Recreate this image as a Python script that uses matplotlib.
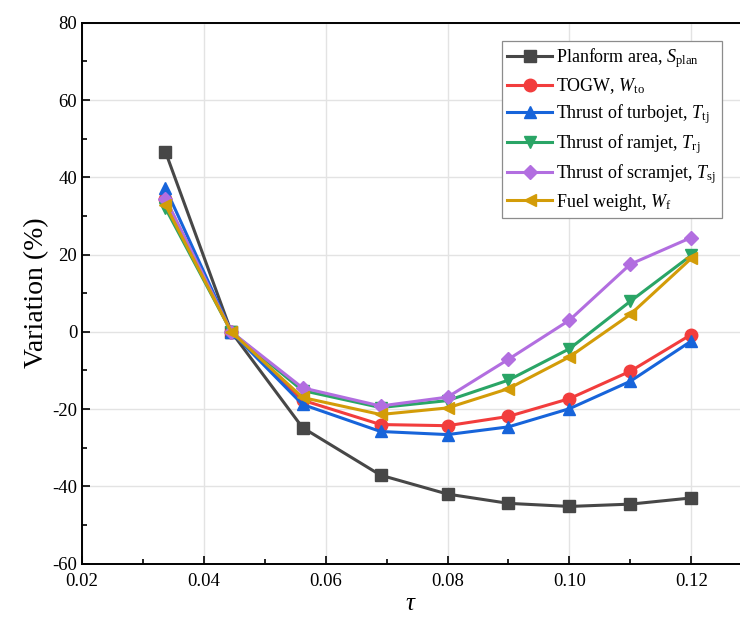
import matplotlib.pyplot as plt
from matplotlib.ticker import MultipleLocator

plt.rcParams['font.family'] = ['Liberation Serif', 'DejaVu Serif']
plt.rcParams['mathtext.fontset'] = 'custom'
plt.rcParams['mathtext.rm'] = 'Liberation Serif'
plt.rcParams['mathtext.it'] = 'Liberation Serif:italic'
plt.rcParams['axes.unicode_minus'] = False

# design parameter tau
tau = [0.0337, 0.0445, 0.0562, 0.0690, 0.08, 0.09, 0.10, 0.11, 0.12]

# variation (%) of each quantity
s_plan = [46.6, 0.0, -24.8, -37.1, -42.0, -44.4, -45.2, -44.6, -43.0]
w_to = [34.3, 0.0, -17.7, -24.0, -24.3, -21.9, -17.3, -10.2, -0.7]
t_tj = [37.2, 0.0, -18.8, -25.8, -26.6, -24.6, -19.9, -12.8, -2.4]
t_rj = [32.0, 0.0, -15.2, -19.6, -17.8, -12.5, -4.4, 7.9, 19.8]
t_sj = [34.5, 0.0, -14.5, -19.2, -16.9, -7.1, 3.0, 17.5, 24.4]
w_f = [32.8, 0.0, -17.0, -21.4, -19.7, -14.7, -6.5, 4.5, 19.0]

labels = ['Planform area, $S_{\\mathrm{plan}}$',
          'TOGW, $W_{\\mathrm{to}}$',
          'Thrust of turbojet, $T_{\\mathrm{tj}}$',
          'Thrust of ramjet, $T_{\\mathrm{rj}}$',
          'Thrust of scramjet, $T_{\\mathrm{sj}}$',
          'Fuel weight, $W_{\\mathrm{f}}$']
series = [s_plan, w_to, t_tj, t_rj, t_sj, w_f]
colors = ['#474747', '#F23D3D', '#1764DA', '#2AA566', '#B26EE0', '#D39C08']
markers = ['s', 'o', '^', 'v', 'D', '<']
sizes = [8, 9, 9, 9, 7.5, 9]

fig = plt.figure(figsize=(7.4, 6.35), dpi=100)
ax = fig.add_axes([0.1108, 0.1124, 0.8892, 0.8518])

for y, lab, c, m, ms in zip(series, labels, colors, markers, sizes):
    ax.plot(tau, y, color=c, marker=m, markersize=ms, linewidth=2.2,
            label=lab)

ax.set_xlim(0.02, 0.128)
ax.set_ylim(-60, 80)
ax.xaxis.set_major_locator(MultipleLocator(0.02))
ax.xaxis.set_minor_locator(MultipleLocator(0.01))
ax.yaxis.set_major_locator(MultipleLocator(20))
ax.yaxis.set_minor_locator(MultipleLocator(10))
ax.xaxis.set_major_formatter(plt.FuncFormatter(lambda v, p: f'{v:.2f}'))
ax.tick_params(which='both', direction='in', top=False, right=False,
               labelsize=13.5, width=1.2)
ax.tick_params(which='major', length=6)
ax.tick_params(which='minor', length=3.5)
ax.tick_params(axis='x', pad=7)
ax.grid(True, which='major', color='#e3e3e3', linewidth=1.0)
ax.set_axisbelow(True)
for side in ['left', 'bottom', 'top']:
    ax.spines[side].set_linewidth(1.4)
ax.spines['right'].set_visible(False)

ax.set_ylabel('Variation (%)', fontsize=20, labelpad=2)
ax.set_xlabel('$\\tau$', fontsize=18, labelpad=2)

leg = ax.legend(loc='upper right', bbox_to_anchor=(0.972, 0.966),
                fontsize=13, handlelength=2.5, borderpad=0.3,
                labelspacing=0.33, handletextpad=0.2, borderaxespad=0,
                fancybox=False, framealpha=1.0, edgecolor='#8c8c8c')
leg.get_frame().set_linewidth(0.9)

fig.savefig('out.png', dpi=100)
